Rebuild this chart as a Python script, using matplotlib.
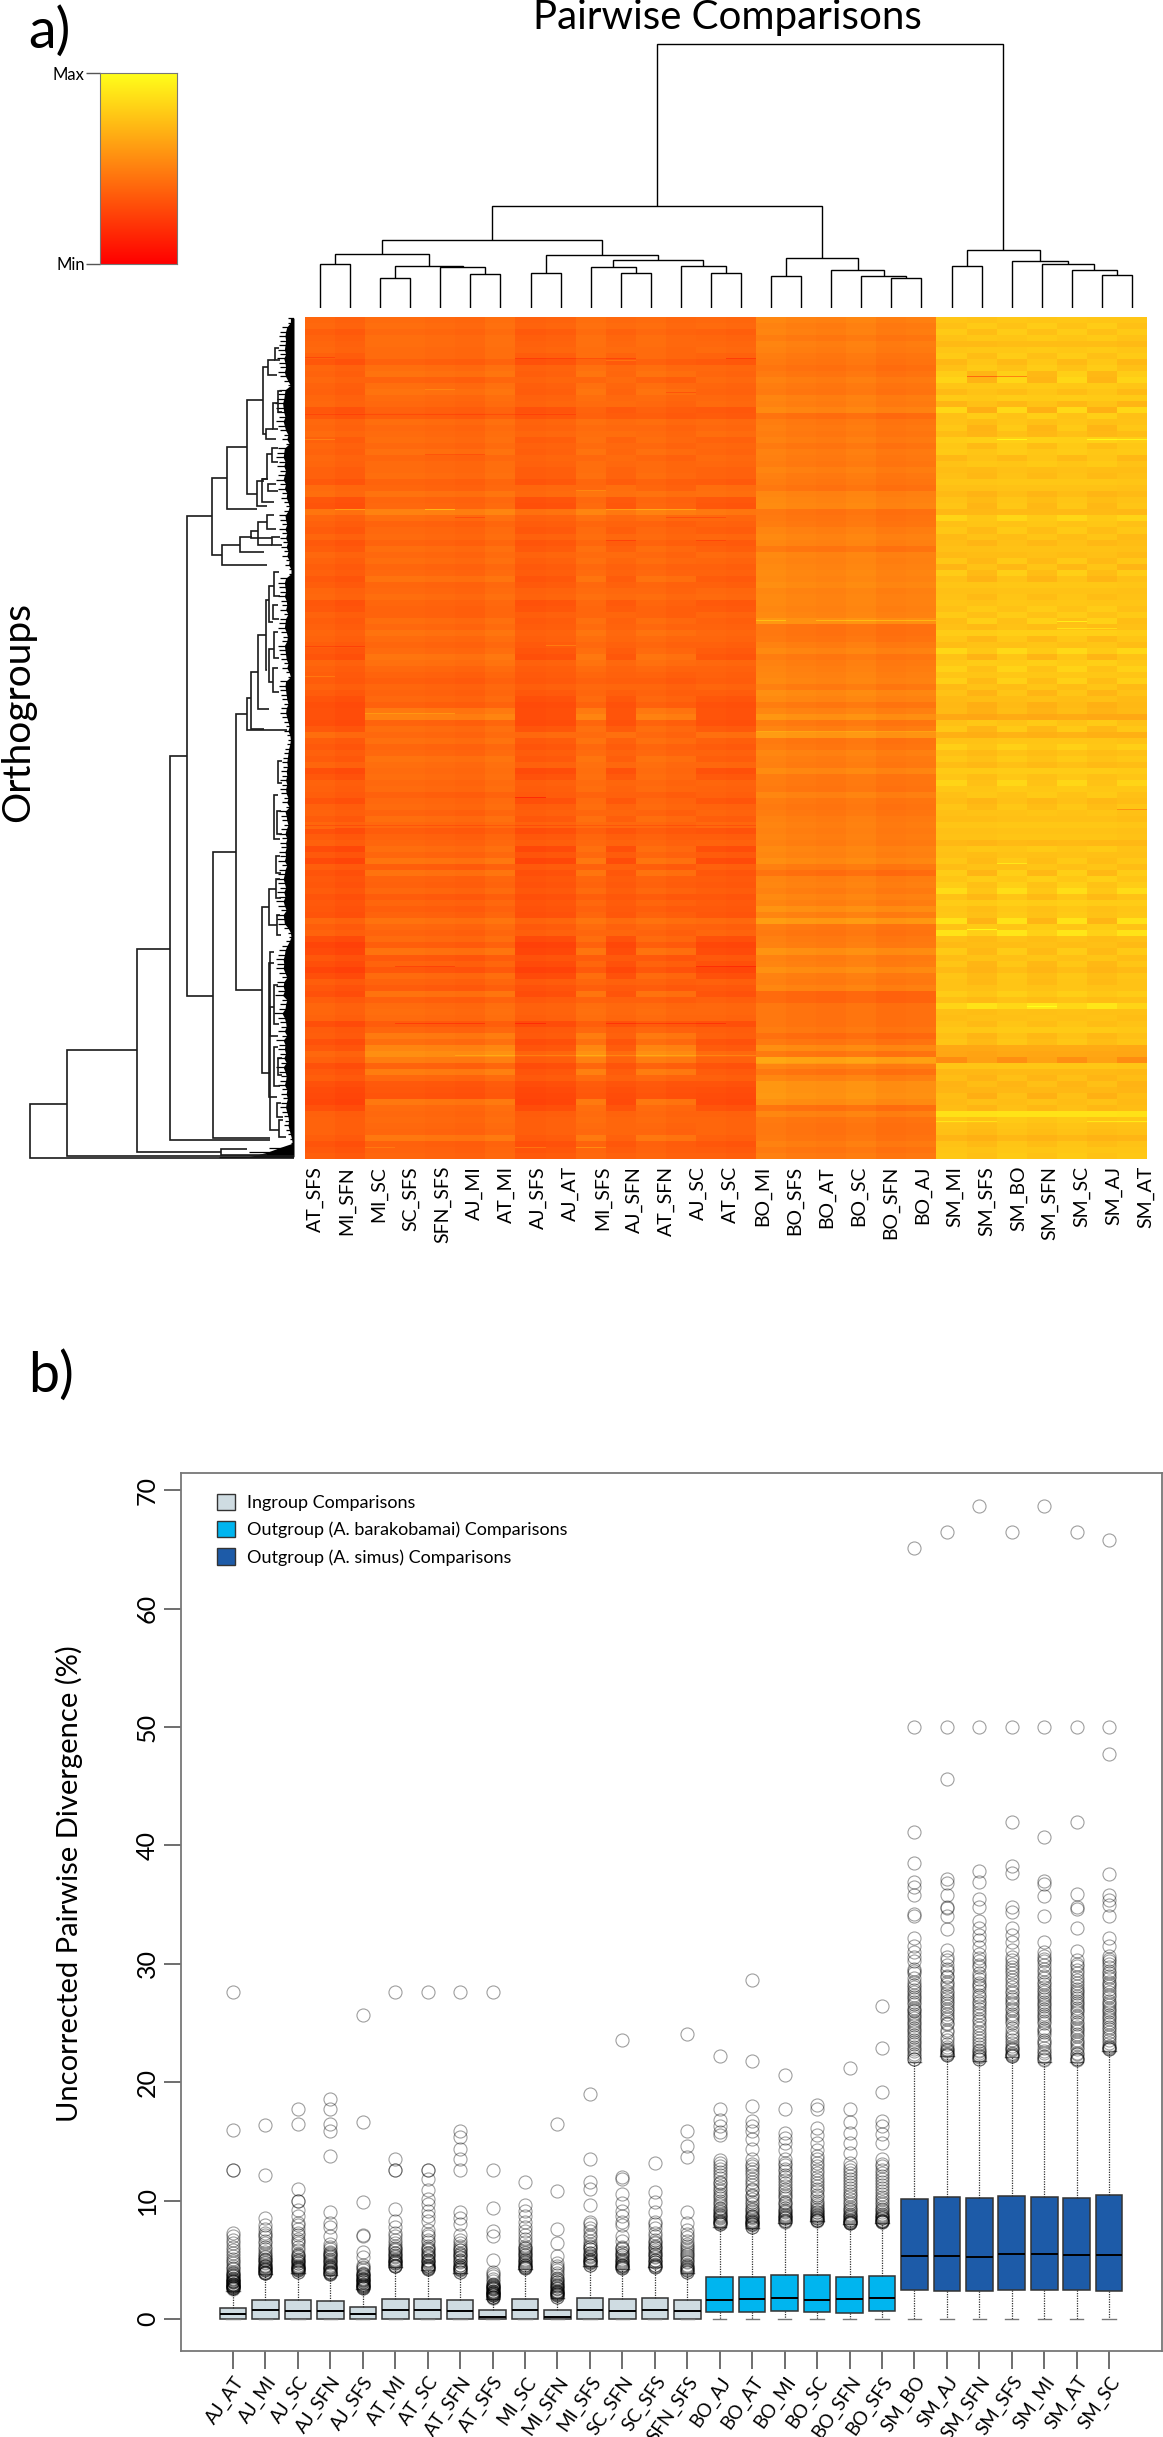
import numpy as np
import matplotlib
matplotlib.use('Agg')
import matplotlib.pyplot as plt
from matplotlib.colors import LinearSegmentedColormap
from matplotlib.patches import Patch

plt.rcParams['font.family'] = ['Lato', 'DejaVu Sans']

W, H = 1163, 2437

# heatmap labels (one label fewer than columns in the original figure)
heat_labels = ['AT_SFS', 'MI_SFN', 'MI_SC', 'SC_SFS', 'SFN_SFS', 'AJ_MI', 'AT_MI', 'AJ_SFS', 'AJ_AT',
               'MI_SFS', 'AJ_SFN', 'AT_SFN', 'AJ_SC', 'AT_SC', 'BO_MI', 'BO_SFS', 'BO_AT', 'BO_SC',
               'BO_SFN', 'BO_AJ', 'SM_MI', 'SM_SFS', 'SM_BO', 'SM_SFN', 'SM_SC', 'SM_AJ', 'SM_AT']

# mean level of every heatmap column (0 = min, 1 = max)
column_level = [.40, .38, .42, .42, .41, .40, .43, .38, .39, .43, .41, .42, .40, .41, .40,
                .50, .48, .47, .49, .46, .47,
                .75, .73, .76, .74, .76, .74, .75]
# which stripe series every column follows
column_group = ['a', 'a', 'b', 'b', 'b', 'b', 'b', 'a', 'a', 'b', 'a', 'b', 'b', 'a', 'a',
                'o', 'o', 'o', 'o', 'o', 'o',
                'p', 'q', 'p', 'q', 'p', 'q', 'p']

# stripes read from top to bottom, in hundredths of the colour scale
ingroup_a = [0, 1, -3, -1, 0, 1, -2, -6, 0, -1, 1, -1, -2, 0, 1, -6, -5, 1, 0, 2, -2, 0, -1, 1, 0, -2, -2, -5, 2, 3, -6, -7, 6, 0, -2, -4, 0, -5, -3, 1, -1, -3, -2, -5, -3, 0, 1,
             -6, -5, -1, -3, -2, 0, -1, -3, -5, -7, 0, -2, -3, -4, -1, -4, -7, -9, -8, -8, -9, -5, 3, -3, -5, -2, -4, 0, -9, -6, -1, -2, -3, -7, -2, -1, -4, 0, -8, -4, -2, -10, -5, -11, -3, -7, -5,
             -6, -4, -7, -5, -6, -7, 1, -3, -1, -9, -13, -11, -6, -9, -13, -9, -3, -6, -8, -3, 0, 0, -1, -9, -4, -3, -8, -5, 1, -2, -8, -5, -3, -8, -10, -11, -12, -8, -2, -1, -1, -1, -3, -7, -5, -3]
ingroup_b = [0, 1, -1, 1, 1, 0, 0, -4, 1, 3, -3, 1, 3, 0, -1, -4, -5, 1, -1, 0, 1, -1, 2, -2, 0, 0, 1, -3, -2, 3, -2, -1, 9, 1, -3, -1, 0, -3, 1, -1, 1, -2, -1, 3, -2, -1, 1,
             -2, -3, -3, 1, -1, 3, 0, -2, 0, 4, 2, -1, -3, -5, -2, -3, -1, -4, 5, 9, -3, 1, -1, 2, -2, -1, 3, 1, 0, 1, -1, 0, -4, -1, 0, -3, 1, -1, -6, -3, -2, 1, -2, 4, -5, 3, -3,
             -4, -1, -6, -2, -5, -3, 3, -1, -3, 0, -5, 3, -7, -3, -8, 0, -3, -6, 3, -4, 0, 1, 0, -6, -2, 6, 1, 10, 14, 7, -3, 7, -1, -7, -8, -9, 5, 0, -1, 0, -1, -2, 5, -4, -3, -2]
barakobamai = [3, 1, 2, -1, 2, 1, -1, -2, -4, -2, 1, -1, -2, 2, 1, 4, -5, -1, 0, -1, 1, -2, 1, 0, -1, 2, 0, -1, -3, 3, 4, 5, -3, -2, -1, 2, 4, 3, -2, 4, 3, 4, 5, 4, 6, 3, 4,
               4, 3, 4, 9, -3, -3, -2, 1, 4, -1, 1, 2, 3, 4, 0, 6, 4, -1, 3, 9, -1, 2, 11, -2, -1, 3, 1, 0, 5, -1, -1, -2, 3, -1, -2, -1, 1, 2, 1, 2, 1, 4, 3, 6, 0, -5, 2,
               3, 1, 4, 2, 8, 2, 12, -1, -2, 0, 1, 8, 1, 2, 7, 1, 0, 3, -8, -8, -3, -3, -3, -3, -1, -6, -2, 6, -2, 16, 2, -3, 3, 9, 9, 10, 7, -4, 3, -2, -3, -3, -2, 1, -2, 0]
simus_a = [2, 0, 4, 1, -2, 2, 4, -3, 0, 5, 8, 2, -2, 4, -4, 9, 0, 1, 3, -1, 5, 3, 4, -3, 1, -1, 0, 2, 0, -2, 1, 2, -3, 8, 0, 3, -2, -1, 0, -2, 3, -4, 5, 0, 2, 0, 1,
           2, 0, 4, -1, 0, 5, 2, -1, 9, 1, 3, 7, 2, 6, -2, 1, -2, -3, -2, -9, 0, 3, -6, 1, 6, 0, 3, -1, 4, 2, 8, 3, 0, -1, 2, 0, -1, 2, 0, 1, -3, 1, 0, 3, -1, 5, 2,
           5, 11, 1, 5, 2, 3, 13, 1, 14, 0, -2, 4, -1, 2, -2, 2, 1, 1, 5, 0, 8, 0, -1, 1, 3, 0, 2, -9, -10, -20, 2, -3, -1, -5, -4, -1, -2, -1, 13, 3, 1, 0, -4, 1, 2, 3]
simus_b = [3, 6, 1, 5, 0, 5, 1, 4, 6, -2, -3, 5, 3, 5, 2, -5, 7, 1, -3, -2, 8, 0, 4, 3, 5, 0, -1, 4, 2, -3, 0, -2, -1, 5, 4, 0, 3, -2, 2, 1, -1, 3, 0, -3, 4, 2, 0,
           3, 6, 2, 8, 0, 7, -1, 3, 5, -3, 7, 2, 4, 0, 3, -3, 1, -5, -4, -8, 5, -2, -5, 3, 4, 0, 2, -1, 6, 1, 2, 4, 5, -2, 0, 3, 1, 4, 2, 3, -2, 5, 1, 0, 3, -2, 7,
           2, 4, -1, 6, 1, 2, -3, 6, 8, 0, 1, -1, 3, -2, -3, 0, -1, 2, 4, 0, 16, 1, 2, 0, 5, -2, 0, -7, -9, -10, 4, -1, -3, 1, -2, -5, 2, -2, 15, 3, 1, 0, -4, 0, 3, 2]

# thin single lines in the heatmap: row of 840, first column, last column, change in hundredths
thin_lines = [(40, 0, 0, -10), (41, 7, 10, -12), (41, 14, 14, -14), (43, 10, 10, 10), (59, 22, 23, -30),
              (72, 4, 4, 8), (75, 12, 12, -10), (97, 0, 8, -8), (122, 0, 0, 12), (122, 23, 23, 15),
              (122, 26, 27, 15), (137, 4, 5, -10), (173, 9, 9, 12), (192, 1, 1, 18), (192, 4, 4, 22),
              (192, 10, 12, 15), (200, 5, 5, -10), (200, 12, 13, -10), (222, 10, 10, -10), (222, 13, 13, -8),
              (302, 15, 15, 15), (302, 17, 20, 15), (328, 0, 1, -10), (327, 8, 8, 12), (358, 0, 0, 10),
              (395, 2, 4, 12), (413, 15, 20, 14), (479, 7, 7, -18), (507, 0, 14, -8), (510, 0, 0, 8),
              (303, 25, 25, 18), (310, 25, 26, 12), (545, 23, 23, 12), (491, 27, 27, -20), (611, 22, 22, 18),
              (687, 24, 24, 22), (736, 5, 14, 10), (744, 15, 20, 10), (704, 3, 5, -12), (704, 7, 7, -12),
              (704, 10, 13, -12), (647, 13, 14, -14), (647, 3, 4, -12), (828, 9, 9, 15), (828, 7, 7, 12),
              (828, 2, 2, 8), (802, 21, 22, 12), (802, 26, 27, 14)]

# column dendrogram: (merge height, left, right), leaves are column numbers
column_tree = (264,
               (102,
                (68,
                 (54, (44, 1, 2), (42, (30, 3, 4), (41, 5, (34, 6, 7)))),
                 (53, (35, 8, 9), (48, (41, 10, (35, 11, 12)), (42, 13, (35, 14, 15))))),
                (50, (32, 16, 17), (38, 18, (32, 19, (30, 20, 21))))),
               (58, (42, 22, 23), (47, 24, (44, 25, (38, 26, (33, 27, 28))))))

# row dendrogram branches: height, top row, top child height, bottom row, bottom child height
row_tree = [(264, 1401, 227, 1498, 0), (227, 1306, 157, 1495, 0), (157, 1125, 124, 1488, 73),
            (124, 782, 107, 1466, 24), (107, 353, 82, 1210, 81), (81, 953, 58, 1463, 24),
            (58, 706, 47, 1198, 32), (47, 678, 43, 735, 7), (43, 631, 36, 733, 30),
            (36, 565, 28, 698, 25), (28, 503, 25, 628, 27), (32, 1051, 25, 1346, 24),
            (25, 1018, 18, 1083, 17), (24, 1228, 20, 1448, 15), (82, 286, 67, 423, 72),
            (67, 230, 47, 341, 37), (47, 146, 31, 313, 37), (31, 88, 26, 206, 28),
            (37, 290, 30, 336, 27), (72, 404, 54, 440, 27), (54, 391, 42, 418, 30),
            (73, 1483, 47, 1493, 27),
            (26, 74, 19, 102, 17), (19, 53, 15, 74, 14), (28, 198, 21, 216, 18), (21, 151, 16, 198, 16),
            (16, 130, 12, 168, 12), (27, 243, 22, 287, 32), (32, 287, 26, 328, 20), (22, 231, 16, 257, 16),
            (26, 296, 18, 308, 16), (27, 352, 20, 376, 18), (36, 364, 27, 405, 22), (43, 379, 36, 393, 22),
            (22, 391, 14, 405, 12), (25, 477, 20, 542, 21), (20, 453, 15, 495, 14), (21, 512, 16, 536, 15),
            (25, 590, 20, 649, 21), (20, 560, 16, 607, 15), (21, 625, 16, 667, 15), (18, 1000, 14, 1035, 13),
            (17, 1065, 14, 1100, 13), (20, 1190, 16, 1260, 15), (15, 1430, 11, 1460, 8), (20, 850, 16, 930, 14),
            (24, 1130, 20, 1280, 16), (25, 1150, 20, 1390, 17), (20, 1300, 16, 1370, 14), (16, 790, 12, 830, 12),
            (17, 880, 13, 920, 12), (18, 960, 14, 990, 13), (16, 1320, 12, 1350, 12), (17, 1400, 13, 1425, 11)]

# length of the dense row dendrogram tips, one value every 8 rows from top to bottom
tip_depth = [6, 6, 12, 14, 15, 14, 15, 16, 14, 17, 15, 14, 16, 14, 10, 6, 15, 16, 17, 19, 18, 17, 15, 18, 16, 14,
             10, 12, 8, 16, 17, 18, 15, 17, 14, 16, 18, 14, 16, 12, 13, 10, 8, 10, 15, 14, 12, 15, 12, 14, 11, 13,
             10, 12, 8, 9, 5, 5, 14, 16, 15, 14, 16, 13, 12, 14, 10, 14, 15, 16, 13, 11, 12, 16, 15, 14, 13, 10, 12,
             8, 6, 14, 15, 14, 13, 12, 10, 13, 14, 12, 10, 8, 10, 7, 6, 7, 9, 10, 11, 12, 11, 13, 12, 14, 12, 14, 13,
             10, 12, 8, 15, 13, 12, 10, 13, 15, 12, 14, 13, 15, 14, 16, 12, 15, 16, 18, 16, 14, 17, 15, 18, 16, 13, 18,
             17, 16, 10, 6, 5, 8, 12, 15, 16, 18, 17, 18, 15, 12, 17, 18, 16, 19, 12, 14, 15, 20, 16, 14, 13, 16, 12,
             18, 15, 16, 14, 17, 13, 18, 15, 13, 14, 16, 12, 13, 11, 13, 14, 12, 10, 9, 10, 8, 6, 4, 3, 25, 45, 75]

# boxplots
box_names = ['AJ_AT', 'AJ_MI', 'AJ_SC', 'AJ_SFN', 'AJ_SFS', 'AT_MI', 'AT_SC', 'AT_SFN', 'AT_SFS', 'MI_SC',
             'MI_SFN', 'MI_SFS', 'SC_SFN', 'SC_SFS', 'SFN_SFS', 'BO_AJ', 'BO_AT', 'BO_MI', 'BO_SC', 'BO_SFN',
             'BO_SFS', 'SM_BO', 'SM_AJ', 'SM_SFN', 'SM_SFS', 'SM_MI', 'SM_AT', 'SM_SC']
q1 = [0] * 15 + [.59, .59, .65, .59, .54, .65, 2.45, 2.39, 2.37, 2.45, 2.45, 2.45, 2.39]
medians = [.42, .76, .70, .68, .42, .76, .73, .70, .14, .76, .20, .79, .68, .76, .70,
           1.63, 1.72, 1.75, 1.63, 1.66, 1.75, 5.35, 5.35, 5.27, 5.49, 5.52, 5.44, 5.44]
q3 = [.96, 1.58, 1.58, 1.52, .99, 1.72, 1.66, 1.58, .73, 1.72, .76, 1.75, 1.66, 1.75, 1.60,
      3.52, 3.58, 3.69, 3.69, 3.58, 3.60, 10.14, 10.28, 10.20, 10.37, 10.28, 10.23, 10.45]
whisker_top = [2.4, 3.8, 3.9, 3.7, 2.5, 4.4, 4.1, 3.9, 1.7, 4.2, 1.8, 4.5, 4.2, 4.4, 3.9,
               7.8, 7.7, 8.1, 8.3, 8.0, 8.1, 21.7, 22.2, 21.8, 22.1, 21.7, 21.7, 22.6]
box_groups = ['in'] * 15 + ['bo'] * 6 + ['sm'] * 7
group_colors = {'in': '#cfdce2', 'bo': '#00b5ef', 'sm': '#1d5ba8'}

outliers = [
    [27.6, 16.0, 12.6, 12.6, 7.3, 7.0, 6.7, 6.4, 6.1, 5.8, 5.6, 5.3, 5.1, 4.9, 4.7, 4.5, 4.3, 4.2, 4.0, 3.9, 3.8, 3.7, 3.6, 3.5, 3.4, 3.3, 3.2, 3.2, 3.1, 3.0, 3.0, 2.9, 2.8, 2.8, 2.7, 2.6, 2.5],
    [16.4, 12.2, 8.5, 7.9, 7.6, 7.3, 7.1, 6.9, 6.6, 6.4, 6.1, 5.9, 5.7, 5.5, 5.3, 5.1, 5.0, 4.8, 4.6, 4.5, 4.3, 4.2, 4.1, 4.0, 3.9],
    [17.7, 16.5, 11.0, 10.0, 10.0, 9.2, 8.7, 8.1, 7.9, 7.6, 7.3, 7.1, 6.8, 6.6, 6.4, 6.1, 5.8, 5.5, 5.3, 5.2, 5.0, 4.9, 4.7, 4.6, 4.4, 4.3, 4.2, 4.1, 4.0],
    [18.6, 17.7, 16.5, 15.9, 13.8, 9.0, 8.1, 7.8, 7.0, 6.3, 6.1, 5.9, 5.7, 5.5, 5.3, 5.1, 5.0, 4.8, 4.7, 4.5, 4.4, 4.3, 4.2, 4.1, 4.0, 3.9, 3.8],
    [25.7, 16.6, 9.9, 7.1, 7.0, 5.7, 5.2, 4.6, 4.4, 4.3, 4.1, 3.9, 3.8, 3.7, 3.6, 3.5, 3.4, 3.3, 3.2, 3.1, 3.0, 2.9, 2.8, 2.7, 2.6],
    [27.6, 13.5, 12.6, 12.6, 9.3, 8.3, 7.8, 7.3, 7.0, 6.7, 6.4, 6.2, 6.0, 5.8, 5.6, 5.4, 5.2, 5.0, 4.9, 4.7, 4.5],
    [27.6, 12.6, 12.6, 11.8, 10.9, 10.1, 9.7, 9.1, 8.7, 8.3, 7.5, 7.2, 7.0, 6.7, 6.5, 6.2, 6.0, 5.8, 5.6, 5.4, 5.2, 5.0, 4.9, 4.7, 4.5, 4.3, 4.2],
    [27.6, 15.9, 15.4, 14.4, 13.5, 12.6, 9.0, 8.5, 8.0, 7.1, 6.7, 6.4, 6.2, 6.0, 5.8, 5.6, 5.4, 5.2, 5.0, 4.8, 4.6, 4.4, 4.2, 4.0],
    [27.6, 12.6, 9.4, 7.4, 7.0, 5.0, 4.0, 3.8, 3.6, 3.4, 3.2, 3.0, 2.9, 2.8, 2.7, 2.6, 2.5, 2.4, 2.3, 2.2, 2.2, 2.1, 2.0, 2.0, 1.9, 1.9, 1.8],
    [11.6, 9.6, 9.1, 8.7, 8.2, 7.8, 7.4, 7.1, 6.8, 6.5, 6.2, 6.0, 5.8, 5.6, 5.4, 5.2, 5.0, 4.8, 4.6, 4.4, 4.3],
    [16.5, 10.8, 7.6, 6.4, 5.3, 4.7, 4.5, 4.3, 4.1, 3.9, 3.7, 3.5, 3.3, 3.1, 3.0, 2.9, 2.8, 2.6, 2.5, 2.4, 2.3, 2.2, 2.1, 2.0, 1.9],
    [19.0, 13.5, 11.6, 11.0, 9.6, 8.2, 8.0, 7.7, 7.4, 7.1, 6.9, 6.6, 6.3, 6.1, 5.9, 5.6, 5.4, 5.2, 5.0, 4.8, 4.6],
    [23.6, 12.0, 11.8, 10.6, 9.8, 9.1, 8.7, 8.2, 7.9, 7.0, 6.6, 6.1, 5.9, 5.6, 5.4, 5.2, 5.0, 4.8, 4.6, 4.5, 4.3],
    [13.2, 10.7, 9.9, 9.0, 8.2, 8.0, 7.7, 7.3, 7.0, 6.7, 6.4, 6.2, 6.0, 5.7, 5.5, 5.3, 5.0, 4.8, 4.6, 4.4],
    [24.1, 15.9, 14.6, 13.7, 9.0, 8.1, 7.5, 7.2, 6.9, 6.6, 6.3, 6.0, 5.7, 5.4, 5.1, 4.8, 4.5, 4.3, 4.1, 4.0],
    [22.2, 17.7, 16.8, 16.3, 15.8, 15.5, 13.4, 13.2, 12.7, 12.4, 11.9, 11.5, 11.0, 10.6, 10.2, 9.8, 9.4, 9.1, 8.8, 8.5, 8.2, 8.0],
    [28.6, 21.8, 18.0, 16.7, 16.3, 15.9, 15.2, 14.4, 13.5, 13.1, 12.7, 12.2, 11.8, 11.3, 10.9, 10.5, 10.1, 9.7, 9.3, 9.0, 8.7, 8.4, 8.2, 8.0, 7.8],
    [20.6, 17.7, 15.7, 15.3, 14.9, 14.3, 13.5, 13.0, 12.5, 12.0, 11.5, 11.0, 10.6, 10.2, 9.8, 9.4, 9.1, 8.8, 8.5, 8.3],
    [18.1, 17.7, 16.1, 15.5, 14.9, 14.3, 13.8, 13.2, 12.6, 12.0, 11.5, 11.0, 10.5, 10.0, 9.6, 9.3, 9.0, 8.7, 8.5, 8.4],
    [21.2, 17.7, 16.6, 15.7, 14.9, 14.0, 13.2, 12.6, 12.1, 11.6, 11.1, 10.6, 10.1, 9.7, 9.3, 9.0, 8.7, 8.4, 8.2, 8.1],
    [26.4, 22.9, 19.2, 16.7, 16.3, 15.6, 14.9, 13.5, 13.1, 12.6, 12.1, 11.6, 11.1, 10.6, 10.1, 9.7, 9.3, 9.0, 8.7, 8.5, 8.3],
    [65.1, 50.0, 41.1, 38.5, 36.9, 36.5, 35.8, 34.2, 34.0, 32.2, 31.5, 31.0, 30.6, 29.6, 29.2, 28.5, 28.0, 27.6, 27.2, 26.8, 26.3, 26.0, 25.6, 25.2, 24.8, 24.4, 24.0, 23.6, 23.2, 22.8, 22.4, 22.0],
    [66.5, 50.0, 45.6, 37.2, 36.8, 35.8, 34.8, 34.7, 34.0, 32.9, 31.2, 30.6, 29.9, 29.4, 28.9, 28.3, 27.7, 27.3, 26.9, 26.4, 26.0, 25.5, 25.0, 24.4, 23.8, 23.2, 22.7, 22.3],
    [68.7, 50.0, 37.8, 36.9, 35.5, 34.8, 33.6, 33.0, 32.4, 32.0, 31.4, 30.8, 30.2, 29.7, 29.0, 28.4, 28.0, 27.4, 26.9, 26.4, 25.9, 25.3, 24.8, 24.2, 23.7, 23.2, 22.6, 22.2, 22.0],
    [66.5, 50.0, 42.0, 38.3, 37.7, 34.8, 34.4, 33.0, 32.4, 31.8, 31.2, 30.6, 30.0, 29.5, 28.9, 28.3, 27.7, 27.2, 26.8, 26.3, 25.8, 25.4, 25.0, 24.2, 23.8, 23.3, 22.8, 22.4, 22.2],
    [68.7, 50.0, 40.7, 37.0, 36.7, 35.7, 34.0, 31.8, 31.0, 30.4, 29.9, 29.3, 28.8, 28.3, 27.8, 27.4, 27.0, 26.6, 26.2, 25.8, 25.4, 25.0, 24.6, 24.2, 23.6, 23.2, 22.6, 22.2, 21.9],
    [66.5, 50.0, 42.0, 35.9, 34.8, 34.6, 33.0, 31.1, 30.3, 29.8, 29.2, 28.6, 28.1, 27.7, 27.3, 26.9, 26.5, 26.1, 25.6, 25.1, 24.7, 24.3, 23.9, 23.4, 23.0, 22.5, 22.0, 21.9],
    [65.8, 50.0, 47.7, 37.6, 35.8, 35.4, 35.0, 34.0, 32.2, 31.5, 30.7, 30.2, 29.7, 29.2, 28.8, 28.3, 27.9, 27.4, 26.9, 26.5, 26.1, 25.7, 25.3, 24.9, 24.5, 24.0, 23.6, 23.1, 22.8],
]
# points in the crowded low end of every outlier column
outliers_low = [
    [3.6, 3.4, 3.2, 3.1, 3.0, 2.9, 2.8, 2.7, 2.6, 2.6],
    [5.2, 5.0, 4.7, 4.5, 4.4, 4.2, 4.1, 4.0, 3.9, 3.9],
    [5.4, 5.1, 4.9, 4.7, 4.5, 4.4, 4.3, 4.2, 4.1, 4.0],
    [5.6, 5.4, 5.2, 4.9, 4.6, 4.4, 4.2, 4.0, 3.9, 3.8],
    [3.8, 3.6, 3.4, 3.3, 3.1, 3.0, 2.9, 2.8, 2.7, 2.6],
    [5.9, 5.6, 5.3, 5.1, 4.9, 4.8, 4.7, 4.6, 4.5, 4.5],
    [5.9, 5.6, 5.3, 5.0, 4.8, 4.6, 4.5, 4.4, 4.3, 4.2],
    [5.8, 5.5, 5.2, 4.9, 4.6, 4.4, 4.3, 4.2, 4.1, 4.0],
    [2.9, 2.7, 2.6, 2.5, 2.4, 2.3, 2.2, 2.1, 2.0, 1.9],
    [6.0, 5.7, 5.4, 5.1, 4.9, 4.7, 4.6, 4.5, 4.4, 4.3],
    [3.4, 3.1, 2.8, 2.6, 2.4, 2.3, 2.2, 2.1, 2.0, 1.9],
    [6.2, 5.9, 5.6, 5.3, 5.1, 5.0, 4.9, 4.8, 4.7, 4.6],
    [6.0, 5.7, 5.4, 5.1, 4.9, 4.7, 4.6, 4.5, 4.4, 4.3],
    [6.5, 6.1, 5.8, 5.5, 5.2, 5.0, 4.8, 4.6, 4.5, 4.4],
    [6.2, 5.8, 5.5, 5.2, 4.9, 4.6, 4.4, 4.2, 4.1, 4.0],
    [12.9, 12.2, 11.6, 11.2, 10.8, 10.4, 10.0, 9.6, 9.3, 9.0, 8.9, 8.7, 8.6, 8.4, 8.3, 8.2, 8.1, 8.0],
    [12.9, 12.4, 11.6, 11.0, 10.4, 9.9, 9.5, 9.2, 8.9, 8.7, 8.6, 8.5, 8.3, 8.2, 8.1, 8.0, 7.9, 7.8],
    [13.2, 12.7, 12.2, 11.7, 11.2, 10.8, 10.4, 9.9, 9.6, 9.2, 9.0, 8.9, 8.7, 8.6, 8.5, 8.4, 8.3, 8.2],
    [13.5, 12.9, 12.3, 11.7, 11.2, 10.8, 10.3, 9.8, 9.5, 9.2, 9.0, 8.9, 8.8, 8.6, 8.5, 8.4, 8.4, 8.3],
    [12.8, 12.3, 11.8, 11.3, 10.8, 10.4, 9.9, 9.5, 9.2, 8.9, 8.8, 8.6, 8.5, 8.4, 8.3, 8.2, 8.1, 8.1],
    [12.9, 12.3, 11.8, 11.3, 10.8, 10.3, 9.9, 9.5, 9.2, 8.9, 8.8, 8.6, 8.5, 8.4, 8.3, 8.3, 8.2, 8.2],
    [30.2, 29.4, 28.8, 28.2, 27.8, 27.4, 27.0, 26.6, 26.1, 25.8, 25.4, 25.0, 24.6, 24.2, 23.8, 23.4, 23.0, 22.6, 22.2, 22.0],
    [30.3, 29.6, 29.0, 28.5, 28.0, 27.5, 27.1, 26.7, 26.2, 25.8, 25.3, 24.9, 24.2, 23.6, 23.0, 22.8, 22.6, 22.5, 22.4, 22.3],
    [30.5, 29.9, 29.2, 28.7, 28.2, 27.7, 27.2, 26.7, 26.2, 25.7, 25.2, 24.6, 24.0, 23.5, 23.0, 22.7, 22.5, 22.3, 22.1, 22.0],
    [30.3, 29.7, 29.2, 28.6, 28.0, 27.5, 27.0, 26.6, 26.1, 25.6, 25.2, 24.6, 24.0, 23.6, 23.1, 22.9, 22.7, 22.5, 22.3, 22.2],
    [30.7, 30.2, 29.6, 29.0, 28.5, 28.0, 27.6, 27.2, 26.8, 26.4, 26.0, 25.6, 25.2, 24.4, 24.0, 23.4, 22.9, 22.5, 22.1, 22.0],
    [30.0, 29.5, 28.9, 28.4, 27.9, 27.5, 27.1, 26.7, 26.3, 25.9, 25.4, 24.9, 24.5, 24.1, 23.6, 23.2, 22.8, 22.4, 22.1, 22.0],
    [30.4, 30.0, 29.4, 29.0, 28.5, 28.1, 27.6, 27.2, 26.7, 26.3, 25.9, 25.5, 25.1, 24.7, 24.2, 23.8, 23.3, 23.0, 22.9, 22.8],
]


def px_axes(fig, left, top, right, bottom):
    # axes rectangle given in reference pixels
    return fig.add_axes([left / W, 1 - bottom / H, (right - left) / W, (bottom - top) / H])


def draw_column_tree(ax, node):
    # returns x position and height of the node
    if not isinstance(node, tuple):
        return node - 0.5, 0
    height, left, right = node
    xl, hl = draw_column_tree(ax, left)
    xr, hr = draw_column_tree(ax, right)
    ax.plot([xl, xl, xr, xr], [hl, height, height, hr], color='black', lw=1.0,
            solid_joinstyle='miter', solid_capstyle='butt')
    return (xl + xr) / 2, height


fig = plt.figure(figsize=(W / 100, H / 100), dpi=100, facecolor='white')

heat_cmap = LinearSegmentedColormap.from_list('heat', ['#ff0000', '#ff8010', '#ffff1a'])

# panel a, heatmap
stripes = {'a': ingroup_a, 'b': ingroup_b, 'o': barakobamai, 'p': simus_a, 'q': simus_b}
heat = np.column_stack([column_level[i] + np.array(stripes[g]) / 100 for i, g in enumerate(column_group)])
heat = np.repeat(heat, 6, axis=0)
for row, first, last, change in thin_lines:
    heat[row, first:last + 1] += change / 100

ax_heat = px_axes(fig, 305, 317, 1147, 1159)
ax_heat.imshow(heat, cmap=heat_cmap, vmin=0, vmax=1, aspect='auto', interpolation='nearest',
               extent=(0, 28, heat.shape[0], 0))
ax_heat.set_yticks([])
ax_heat.set_xticks(np.linspace(0.33, 27.97, len(heat_labels)))
ax_heat.set_xticklabels(heat_labels, rotation=90, fontsize=14)
ax_heat.tick_params(axis='x', length=0, pad=5)
for spine in ax_heat.spines.values():
    spine.set_visible(False)

# column dendrogram
ax_top = px_axes(fig, 305, 40, 1147, 308)
ax_top.set_xlim(0, 28)
ax_top.set_ylim(0, 268)
draw_column_tree(ax_top, column_tree)
ax_top.axis('off')

# row dendrogram
ax_left = px_axes(fig, 0, 317, 294, 1159)
ax_left.set_xlim(294, 0)
ax_left.set_ylim(1500, -2)
tip_rows = np.arange(len(tip_depth)) * 8
ax_left.hlines(tip_rows, 0, tip_depth, color='black', lw=0.9)
ax_left.fill_betweenx(tip_rows, 0, np.array(tip_depth) * 0.6, color='black', lw=0)
for height, top, top_child, bottom, bottom_child in row_tree:
    ax_left.plot([top_child, height, height, bottom_child], [top, top, bottom, bottom],
                 color='#1a1a1a', lw=1.2, solid_joinstyle='miter', solid_capstyle='butt')
ax_left.axis('off')

# colour key
ax_key = px_axes(fig, 100, 73, 177, 264)
ax_key.imshow(np.linspace(1, 0, 256).reshape(-1, 1), cmap=heat_cmap, vmin=0, vmax=1, aspect='auto',
              extent=(0, 1, 0, 1))
ax_key.set_xticks([])
ax_key.set_yticks([0, 1])
ax_key.set_yticklabels(['Min', 'Max'], fontsize=12)
ax_key.tick_params(axis='y', length=10, width=1, color='#555555', pad=1)
for spine in ax_key.spines.values():
    spine.set_color('#777777')
    spine.set_linewidth(0.8)

fig.text(727 / W, 1 - 18 / H, 'Pairwise Comparisons', fontsize=29, ha='center', va='center')
fig.text(28 / W, 1 - 32 / H, 'a)', fontsize=40, ha='left', va='center')
fig.text(18 / W, 1 - 712 / H, 'Orthogroups', fontsize=28, rotation=90, ha='center', va='center')
fig.text(28 / W, 1 - 1376 / H, 'b)', fontsize=40, ha='left', va='center')

# panel b, boxplots
ax_box = px_axes(fig, 181, 1473, 1162, 2351)
stats = []
for i, name in enumerate(box_names):
    stats.append({'label': name, 'q1': q1[i], 'med': medians[i], 'q3': q3[i],
                  'whislo': 0, 'whishi': whisker_top[i], 'fliers': outliers[i] + outliers_low[i]})

parts = ax_box.bxp(stats, positions=np.arange(1, 29), widths=0.82, patch_artist=True, capwidths=0.41,
                   boxprops=dict(edgecolor='#333333', linewidth=1.1),
                   medianprops=dict(color='black', linewidth=1.4),
                   whiskerprops=dict(color='#333333', linewidth=0.9, linestyle=(0, (1, 1))),
                   capprops=dict(color='#777777', linewidth=1),
                   flierprops=dict(marker='o', markerfacecolor='none', markeredgecolor='black',
                                   markeredgewidth=0.8, markersize=9.4, alpha=0.38))
for box, group in zip(parts['boxes'], box_groups):
    box.set_facecolor(group_colors[group])

ax_box.set_xlim(-0.603, 29.63)
ax_box.set_ylim(-2.70, 71.45)
ax_box.set_yticks(range(0, 71, 10))
ax_box.tick_params(axis='y', length=12, width=1.2, color='#555555', labelsize=18, pad=4)
for label in ax_box.get_yticklabels():
    label.set_rotation(90)
    label.set_va('center')
ax_box.set_xticklabels(box_names, rotation=55, ha='right', rotation_mode='anchor', fontsize=13.5)
ax_box.tick_params(axis='x', length=13, width=1.2, color='#555555', pad=3)
ax_box.set_ylabel('Uncorrected Pairwise Divergence (%)', fontsize=21)
ax_box.yaxis.set_label_coords((83 - 181) / 981, 1 - (1884 - 1473) / 878)
for spine in ax_box.spines.values():
    spine.set_color('#777777')
    spine.set_linewidth(1.3)

handles = [Patch(facecolor=group_colors['in'], edgecolor='#333333', label='Ingroup Comparisons'),
           Patch(facecolor=group_colors['bo'], edgecolor='#333333', label='Outgroup (A. barakobamai) Comparisons'),
           Patch(facecolor=group_colors['sm'], edgecolor='#333333', label='Outgroup (A. simus) Comparisons')]
ax_box.legend(handles=handles, loc='upper left', bbox_to_anchor=(36 / 981, 1 - 21 / 878), frameon=False,
              fontsize=13, handlelength=1.0, handleheight=1.0, handletextpad=0.66, labelspacing=0.55,
              borderpad=0, borderaxespad=0)

fig.savefig('out.png', dpi=100, facecolor='white')
